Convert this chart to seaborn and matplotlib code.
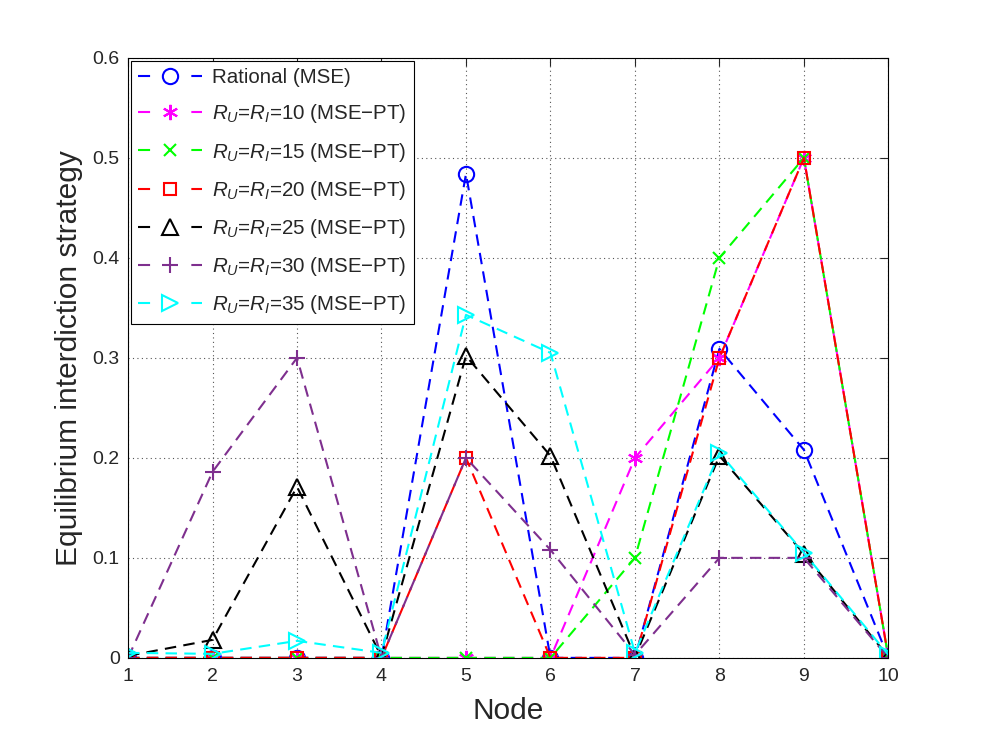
import matplotlib
matplotlib.use("Agg")
import matplotlib.pyplot as plt
import seaborn as sns
import numpy as np

sns.set_style("white")
plt.rcParams['font.family'] = ['Liberation Sans', 'DejaVu Sans']
plt.rcParams['mathtext.fontset'] = 'custom'
plt.rcParams['mathtext.it'] = 'Liberation Sans:italic'
plt.rcParams['mathtext.rm'] = 'Liberation Sans'

nodes = [1, 2, 3, 4, 5, 6, 7, 8, 9, 10]
rational = [0, 0, 0, 0, 0.484, 0, 0, 0.309, 0.208, 0]
r10 = [0, 0, 0, 0, 0, 0, 0.2, 0.3, 0.5, 0]
r15 = [0, 0, 0, 0, 0, 0, 0.1, 0.4, 0.5, 0]
r20 = [0, 0, 0, 0, 0.2, 0, 0, 0.3, 0.5, 0]
r25 = [0.002, 0.018, 0.171, 0.001, 0.302, 0.202, 0.001, 0.202, 0.104, 0.001]
r30 = [0, 0.186, 0.3, 0, 0.2, 0.108, 0.003, 0.1, 0.1, 0]
r35 = [0.005, 0.004, 0.017, 0.005, 0.343, 0.305, 0.005, 0.205, 0.105, 0.003]

labels = ["Rational (MSE)",
          r"$R_U$=$R_I$=10 (MSE$-$PT)",
          r"$R_U$=$R_I$=15 (MSE$-$PT)",
          r"$R_U$=$R_I$=20 (MSE$-$PT)",
          r"$R_U$=$R_I$=25 (MSE$-$PT)",
          r"$R_U$=$R_I$=30 (MSE$-$PT)",
          r"$R_U$=$R_I$=35 (MSE$-$PT)"]

series = [rational, r10, r15, r20, r25, r30, r35]
colors = ["#0000ff", "#ff00ff", "#00ff00", "#ff0000", "#000000", "#7e2f8e", "#00ffff"]
markers = ["o", (6, 2, 0), "x", "s", "^", "+", ">"]
msizes = [11, 11, 8, 9, 12, 12, 12]

fig = plt.figure(figsize=(9.88, 7.4), dpi=100)
ax = fig.add_axes([0.1296, 0.111, 0.7696, 0.8108])

for vals, c, m, ms, lab in zip(series, colors, markers, msizes, labels):
    sns.lineplot(x=nodes, y=vals, ax=ax, color=c, linestyle=(0, (5.5, 3.5)), linewidth=1.5,
                 marker=m, markersize=ms, markerfacecolor='none', markeredgecolor=c,
                 markeredgewidth=1.5, label=lab, errorbar=None)

ax.set_xlim(1, 10)
ax.set_ylim(0, 0.6)
ax.set_xticks(nodes)
ax.set_yticks([0, 0.1, 0.2, 0.3, 0.4, 0.5, 0.6])
ax.set_yticklabels(["0", "0.1", "0.2", "0.3", "0.4", "0.5", "0.6"])
ax.tick_params(direction='in', top=True, right=True, labelsize=14, length=6, width=0.8)
ax.tick_params(axis='x', pad=7)
ax.tick_params(axis='y', pad=6)
ax.grid(True, linestyle=(0, (1, 3)), color='#555555', linewidth=0.8)
for s in ax.spines.values():
    s.set_color('black')
    s.set_linewidth(0.8)
ax.set_xlabel("Node", fontsize=21.5, labelpad=9)
ax.set_ylabel("Equilibrium interdiction strategy", fontsize=21.5, labelpad=7)

leg = ax.legend(loc='upper left', fontsize=14.8, handlelength=3.1, numpoints=1,
                frameon=True, fancybox=False, edgecolor='black', framealpha=1,
                borderaxespad=0.15, labelspacing=0.74, handletextpad=0.5, borderpad=0.35)
leg.get_frame().set_linewidth(0.8)
for ln in leg.get_lines():
    ln.set_linestyle((0, (5.8, 19.8)))

fig.patch.set_facecolor('white')
fig.savefig("out.png", dpi=100, facecolor='white')
